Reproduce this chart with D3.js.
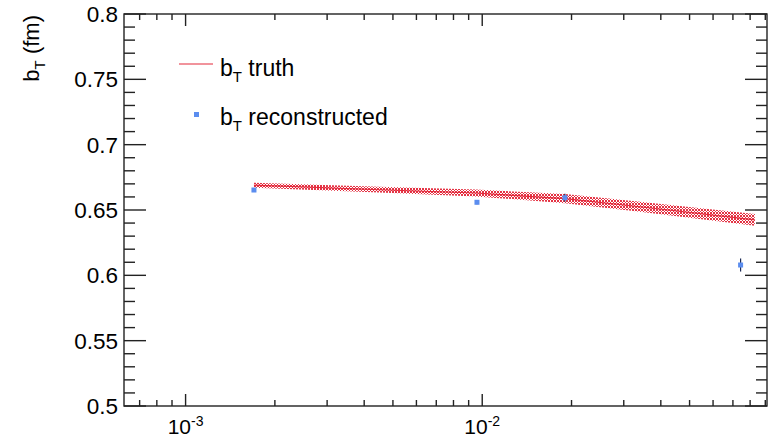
<!DOCTYPE html>
<html>
<head>
<meta charset="utf-8">
<script src="https://cdn.jsdelivr.net/npm/d3@7"></script>
<style>
  html, body { margin: 0; padding: 0; background: #fff; }
  svg { display: block; font-family: "Liberation Sans", Arial, Helvetica, sans-serif; }
</style>
</head>
<body>
<svg id="chart" width="780" height="439"></svg>
<script>
// ---- data ----
const truthX   = [0.0017, 0.0045, 0.0095, 0.019, 0.034, 0.083];
const truthY   = [0.6690, 0.6655, 0.6630, 0.6587, 0.6525, 0.6425];
const truthErr = [0.0019, 0.0022, 0.0026, 0.0035, 0.0038, 0.0045];

const recoX   = [0.0017, 0.0096, 0.019, 0.0743];
const recoY   = [0.6653, 0.6559, 0.6594, 0.6079];
const recoErr = [0.0010, 0.0015, 0.0030, 0.0050];

const yTicks = [0.5, 0.55, 0.6, 0.65, 0.7, 0.75, 0.8];
const yTickLabels = ["0.5", "0.55", "0.6", "0.65", "0.7", "0.75", "0.8"];
const xMajorTicks = [0.001, 0.01];
const xMajorExp = ["-3", "-2"];
const legendLabels = ["truth", "reconstructed"];

// ---- layout ----
const svg = d3.select("#chart");
const L = 124, R = 767, T = 14, B = 406;
const x = d3.scaleLog().domain([6.2e-4, 0.0912]).range([L, R]);
const y = d3.scaleLinear().domain([0.5, 0.8]).range([B, T]);

const red = "#e3283a", blue = "#5b8def", axisCol = "#222";

// pattern for band
const defs = svg.append("defs");
const pat = defs.append("pattern").attr("id", "hatch")
  .attr("patternUnits", "userSpaceOnUse").attr("width", 3).attr("height", 3);
pat.append("path").attr("d", "M0,0L3,3M3,0L0,3")
  .attr("stroke", red).attr("stroke-width", 0.95).attr("fill", "none");

const truth = truthX.map((v, i) => ({x: v, y: truthY[i], e: truthErr[i]}));
const reco = recoX.map((v, i) => ({x: v, y: recoY[i], e: recoErr[i]}));

// band
svg.append("path").datum(truth)
  .attr("d", d3.area().x(d => x(d.x)).y0(d => y(d.y - d.e)).y1(d => y(d.y + d.e)))
  .attr("fill", "url(#hatch)").attr("stroke", "none");
svg.append("path").datum(truth)
  .attr("d", d3.line().x(d => x(d.x)).y(d => y(d.y)))
  .attr("fill", "none").attr("stroke", red).attr("stroke-width", 1.2);

// reco points
svg.append("g").selectAll("line").data(reco).join("line")
  .attr("x1", d => x(d.x)).attr("x2", d => x(d.x))
  .attr("y1", d => y(d.y - d.e)).attr("y2", d => y(d.y + d.e))
  .attr("stroke", "#1c2a55").attr("stroke-width", 1.2);
svg.append("g").selectAll("rect").data(reco).join("rect")
  .attr("x", d => x(d.x) - 2.5).attr("y", d => y(d.y) - 2.5)
  .attr("width", 5).attr("height", 5).attr("fill", blue);

// frame
const g = svg.append("g").attr("stroke", axisCol).attr("stroke-width", 1.4).attr("fill", "none");
g.append("rect").attr("x", L).attr("y", T).attr("width", R - L).attr("height", B - T);

// y ticks (major + minor) on both sides
const yMinor = d3.range(50, 81).map(v => v / 100);
yMinor.forEach(v => {
  const major = Math.abs(Math.round(v * 100) % 5) === 0;
  const len = major ? 22 : 11;
  g.append("line").attr("x1", L).attr("x2", L + len).attr("y1", y(v)).attr("y2", y(v));
  g.append("line").attr("x1", R).attr("x2", R - len).attr("y1", y(v)).attr("y2", y(v));
});

// x ticks
const xMinor = [];
[1e-4, 1e-3, 1e-2].forEach(dec => { for (let k = 2; k <= 9; k++) xMinor.push(dec * k); });
xMinor.filter(v => v >= x.domain()[0] && v <= x.domain()[1]).forEach(v => {
  g.append("line").attr("x1", x(v)).attr("x2", x(v)).attr("y1", B).attr("y2", B - 6);
  g.append("line").attr("x1", x(v)).attr("x2", x(v)).attr("y1", T).attr("y2", T + 6);
});
xMajorTicks.forEach(v => {
  g.append("line").attr("x1", x(v)).attr("x2", x(v)).attr("y1", B).attr("y2", B - 12);
  g.append("line").attr("x1", x(v)).attr("x2", x(v)).attr("y1", T).attr("y2", T + 12);
});

// y tick labels
svg.append("g").selectAll("text").data(yTicks).join("text")
  .attr("x", L - 6).attr("y", d => y(d)).attr("dy", "0.36em")
  .attr("text-anchor", "end").attr("font-size", 22.5).attr("fill", "#000")
  .text((d, i) => yTickLabels[i]);

// x tick labels
xMajorTicks.forEach((v, i) => {
  const t = svg.append("text").attr("x", x(v)).attr("y", 434)
    .attr("text-anchor", "middle").attr("font-size", 21).attr("fill", "#000");
  t.append("tspan").text("10");
  t.append("tspan").attr("font-size", 14).attr("dy", -8).text(xMajorExp[i]);
});

// y axis title
const yt = svg.append("text").attr("transform", "translate(39,15) rotate(-90)")
  .attr("text-anchor", "end").attr("font-size", 22).attr("fill", "#000");
yt.append("tspan").text("b");
yt.append("tspan").attr("font-size", 15).attr("dy", 6).text("T");
yt.append("tspan").attr("dy", -6).text(" (fm)");

// legend
svg.append("line").attr("x1", 179).attr("x2", 213).attr("y1", 64).attr("y2", 64)
  .attr("stroke", red).attr("stroke-width", 1.2);
svg.append("rect").attr("x", 194).attr("y", 112).attr("width", 5).attr("height", 5).attr("fill", blue);
[76, 125].forEach((yy, i) => {
  const t = svg.append("text").attr("x", 220).attr("y", yy).attr("font-size", 23).attr("fill", "#000");
  t.append("tspan").text("b");
  t.append("tspan").attr("font-size", 15).attr("dy", 6).text("T");
  t.append("tspan").attr("dy", -6).text(" " + legendLabels[i]);
});
</script>
</body>
</html>
